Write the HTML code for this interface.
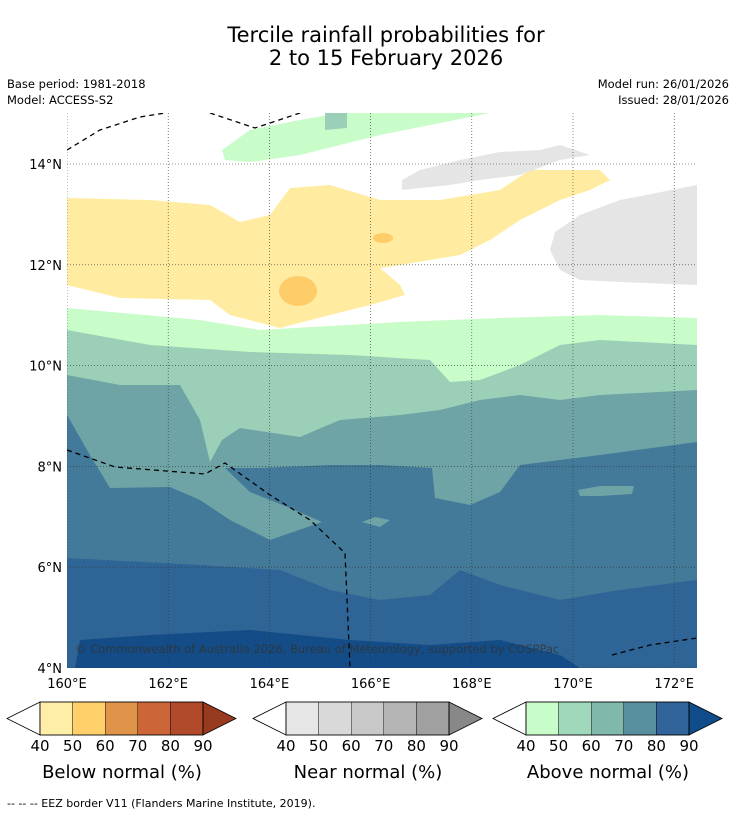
<!DOCTYPE html>
<html><head><meta charset="utf-8"><style>
body{margin:0;background:#fff;font-family:"DejaVu Sans","Liberation Sans",sans-serif;}
svg{display:block}
</style></head><body>
<svg width="736" height="816" viewBox="0 0 736 816" xmlns="http://www.w3.org/2000/svg" font-family="DejaVu Sans, Liberation Sans, sans-serif">
<text x="386" y="42" font-size="21" text-anchor="middle">Tercile rainfall probabilities for</text>
<text x="386" y="65" font-size="21" text-anchor="middle">2 to 15 February 2026</text>
<text x="7" y="88" font-size="11.5">Base period: 1981-2018</text>
<text x="7" y="104" font-size="11.5">Model: ACCESS-S2</text>
<text x="729" y="88" font-size="11.5" text-anchor="end">Model run: 26/01/2026</text>
<text x="729" y="104" font-size="11.5" text-anchor="end">Issued: 28/01/2026</text>
<defs><clipPath id="mc"><rect x="67" y="113" width="630" height="555"/></clipPath></defs>
<g id="map" clip-path="url(#mc)">
<rect x="67" y="113" width="630" height="555" fill="#fff"/>
<polygon fill="#c8fcc8" points="67,308 200,320 260,330 400,322 500,318 600,315 697,318 697,668 67,668"/>
<polygon fill="#9ccfb7" points="67,330 150,345 250,352 350,355 430,360 450,382 480,380 520,365 560,345 600,340 697,345 697,668 67,668"/>
<polygon fill="#6ea4a6" points="67,375 120,385 180,385 200,420 210,462 222,440 240,428 300,437 340,420 400,415 440,410 480,400 520,395 560,400 600,395 697,390 697,668 67,668"/>
<polygon fill="#437a99" points="67,415 90,455 110,488 170,487 200,500 230,520 270,540 322,522 290,508 250,492 225,468 260,468 330,465 380,465 432,468 435,498 470,505 500,492 520,465 600,455 697,442 697,668 67,668"/>
<polygon fill="#6ea4a6" points="578,490 600,486 634,486 632,494 600,496 580,496"/>
<polygon fill="#6ea4a6" points="362,522 375,517 390,520 380,527"/>
<polygon fill="#2f6496" points="67,558 200,565 280,570 330,590 380,600 430,595 460,570 500,585 560,600 620,590 697,580 697,668 67,668"/>
<polygon fill="#134c86" points="75,668 80,640 150,635 250,630 350,640 430,645 500,640 560,655 580,668"/>
<polygon fill="#ffeca0" points="67,198 150,200 210,205 240,222 270,215 290,188 330,185 380,200 440,200 500,190 530,170 600,170 610,180 590,190 560,200 520,220 490,240 460,255 400,265 380,268 400,285 405,295 370,305 330,315 280,328 230,315 210,300 120,298 67,285"/>
<ellipse fill="#ffcc6a" cx="298" cy="291" rx="19" ry="15"/>
<ellipse fill="#ffcc6a" cx="383" cy="238" rx="10" ry="5"/>
<polygon fill="#e5e5e5" points="697,185 620,200 580,215 555,232 550,250 560,270 580,280 620,282 697,285"/>
<polygon fill="#e5e5e5" points="402,180 420,170 460,160 500,152 540,150 560,145 590,155 560,160 520,175 480,180 450,185 402,190"/>
<polygon fill="#c8fcc8" points="222,150 250,130 300,120 340,113 490,113 430,125 380,135 340,145 300,155 250,162 225,160"/>
<polygon fill="#9ccfb7" points="325,113 347,113 347,128 325,130"/>
<g id="grid" stroke="#333" stroke-width="0.6" stroke-dasharray="1,2"></g>
<g fill="none" stroke="#000" stroke-width="1.3" stroke-dasharray="5,4">
<polyline points="67,150 100,130 140,117 165,113"/>
<polyline points="210,113 255,128 300,113"/>
<polyline points="67,450 115,467 205,474 225,463 270,495 310,520 345,553 350,668"/>
<polyline points="612,655 650,645 697,638"/>
</g>
<text x="75" y="653" font-size="11.5" fill="#333" opacity="0.8">© Commonwealth of Australia 2026, Bureau of Meteorology, supported by COSPPac</text>
</g>
<g id="axes" font-size="13"></g>
<g id="cbars" font-size="15"></g>
<text x="7" y="807" font-size="11">--  --  -- EEZ border V11 (Flanders Marine Institute, 2019).</text>
<script>
const lonTicks=[160,162,164,166,168,170,172];
const latTicks=[4,6,8,10,12,14];
const cbTicks=[40,50,60,70,80,90];
const belowColors=["#ffeea8","#ffcf6a","#e0944a","#cc6638","#b04a2a","#983a20"];
const nearColors=["#e6e6e6","#d9d9d9","#c8c8c8","#b4b4b4","#a0a0a0","#888888"];
const aboveColors=["#c8fcc8","#a0d8bc","#80b8ac","#5890a0","#30649a","#104c8a"];
const cbTitles=["Below normal (%)","Near normal (%)","Above normal (%)"];
const NS="http://www.w3.org/2000/svg";
const x=l=>67+(l-160)*50.6, y=la=>668-(la-4)*50.4;
const grid=document.getElementById('grid'), axes=document.getElementById('axes');
function mk(t,a,p){const e=document.createElementNS(NS,t);for(const k in a)e.setAttribute(k,a[k]);p.appendChild(e);return e;}
lonTicks.forEach(l=>{
 const g=mk('line',{x1:x(l),x2:x(l),y1:113,y2:668},grid);
 
 
 const t=mk('text',{x:x(l),y:688,'text-anchor':'middle'},axes);t.textContent=l+'°E';
 
 
});
latTicks.forEach(la=>{
 const g=mk('line',{x1:67,x2:697,y1:y(la),y2:y(la)},grid);
 
 
 const t=mk('text',{x:62,y:y(la)+5,'text-anchor':'end'},axes);t.textContent=la+'°N';
 
 
});
const cb=document.getElementById('cbars');
[[7,belowColors],[253,nearColors],[493,aboveColors]].forEach(([x0,cols],i)=>{
 const g=mk('g',{},cb);
 
 
 const bw=32.6,tw=33,y0=702,h=33,bx=x0+tw;
 const l=mk('polygon',{points:`${x0},${y0+h/2} ${bx},${y0} ${bx},${y0+h}`,fill:'#fff',stroke:'#000','stroke-width':0.8},g);
 
 
 for(let k=0;k<5;k++){
  const r=mk('rect',{x:bx+k*bw,y:y0,width:bw,height:h,fill:cols[k],stroke:'#000','stroke-width':0.4},g);
  
  
 }
 const ex=bx+5*bw;
 const r2=mk('polygon',{points:`${ex},${y0} ${ex+tw},${y0+h/2} ${ex},${y0+h}`,fill:cols[5],stroke:'#000','stroke-width':0.8},g);
 
 
 mk('rect',{x:bx,y:y0,width:5*bw,height:h,fill:'none',stroke:'#000','stroke-width':0.8},g);
 cbTicks.forEach((v,k)=>{const t=mk('text',{x:bx+k*bw,y:751,'text-anchor':'middle'},g);t.textContent=v;
  
  });
 const tt=mk('text',{x:x0+115,y:778,'text-anchor':'middle','font-size':18},g);tt.textContent=cbTitles[i];
 
 
});
</script>
</svg>
</body></html>
